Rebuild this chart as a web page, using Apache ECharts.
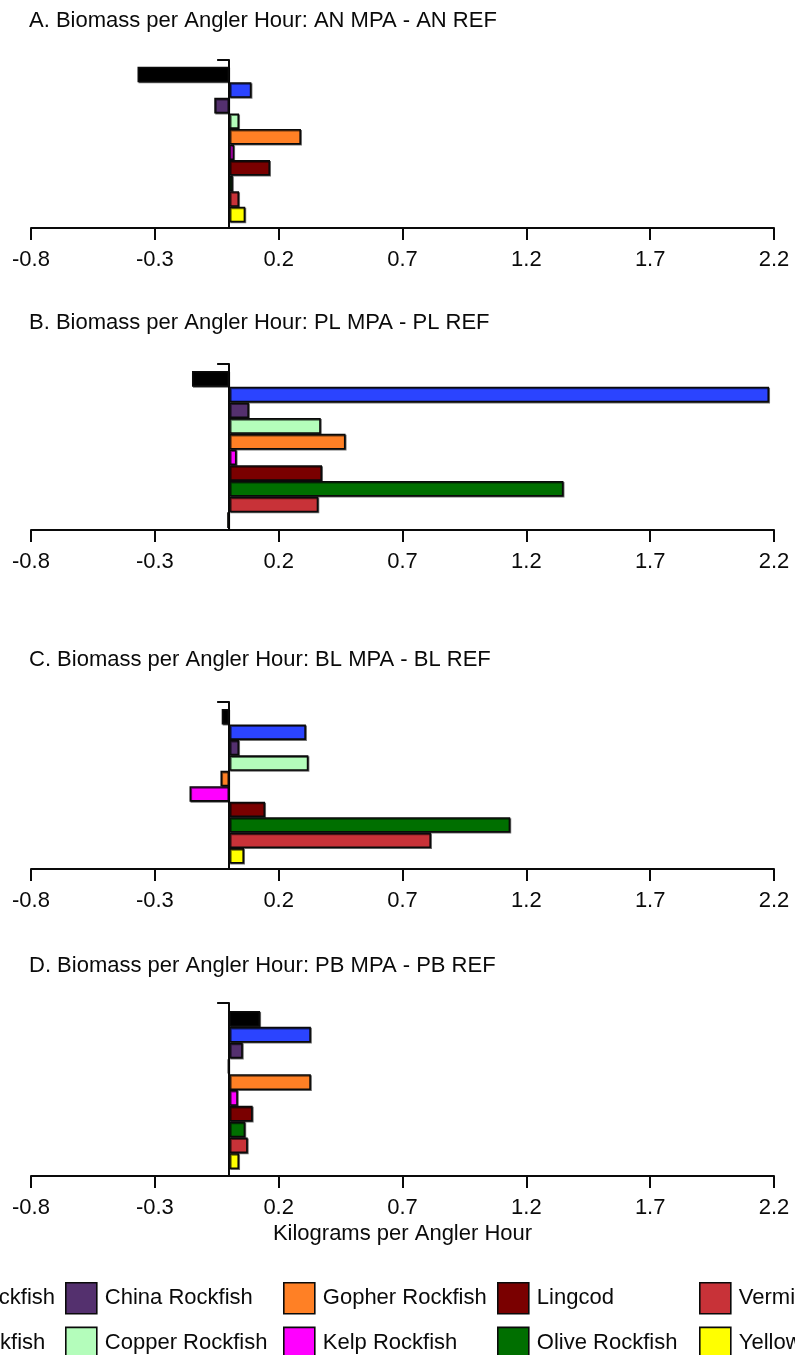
<!DOCTYPE html>
<html>
<head>
<meta charset="utf-8">
<script src="https://cdn.jsdelivr.net/npm/echarts@6/dist/echarts.min.js"></script>
<style>
  html, body { margin: 0; padding: 0; background: #fff; }
  #chart { width: 795px; height: 1355px; }
</style>
</head>
<body>
<div id="chart"></div>
<script>
// species in plotting order (top to bottom)
const species = [
  'Black Rockfish', 'Blue Rockfish', 'China Rockfish', 'Copper Rockfish',
  'Gopher Rockfish', 'Kelp Rockfish', 'Lingcod', 'Olive Rockfish',
  'Vermilion Rockfish', 'Yellowtail Rockfish',
]
const speciesColors = [
  '#000000', '#2b44ff', '#54306e', '#b4fdbb', '#ff8025',
  '#ff00ff', '#7a0000', '#006f00', '#c83238', '#ffff00',
]

// MPA - REF difference, kg per angler hour
const anValues = [-0.37, 0.09, -0.06, 0.04, 0.29, 0.02, 0.165, 0.015, 0.04, 0.065]
const plValues = [-0.15, 2.18, 0.08, 0.37, 0.47, 0.03, 0.375, 1.35, 0.36, -0.008]
const blValues = [-0.03, 0.31, 0.04, 0.32, -0.035, -0.16, 0.145, 1.135, 0.815, 0.06]
const pbValues = [0.125, 0.33, 0.055, -0.006, 0.33, 0.035, 0.095, 0.065, 0.075, 0.04]

const panelTitles = [
  'A. Biomass per Angler Hour: AN MPA - AN REF',
  'B. Biomass per Angler Hour: PL MPA - PL REF',
  'C. Biomass per Angler Hour: BL MPA - BL REF',
  'D. Biomass per Angler Hour: PB MPA - PB REF',
]
const xTicks = [-0.8, -0.3, 0.2, 0.7, 1.2, 1.7, 2.2]
const xName = 'Kilograms per Angler Hour'

const panelValues = [anValues, plValues, blValues, pbValues]

// layout (px): axis frame, bar band, title top
const layout = [
  { frame: [60, 228], bars: [66.7, 222.3], title: 10 },
  { frame: [364, 530], bars: [371, 528], title: 312 },
  { frame: [702, 869], bars: [709, 863.5], title: 649 },
  { frame: [1003, 1176], bars: [1011, 1169], title: 955 },
]
const INK = '#0a0a0a'
const FONT = 'Liberation Sans, Arial, sans-serif'

const grid = []
const xAxis = []
const yAxis = []
const series = []
const title = []

layout.forEach((lay, p) => {
  const outer = p * 2
  const inner = p * 2 + 1
  grid.push({ left: 31, right: 21, top: lay.frame[0], height: lay.frame[1] - lay.frame[0] })
  grid.push({ left: 31, right: 21, top: lay.bars[0], height: lay.bars[1] - lay.bars[0] })

  title.push({
    text: panelTitles[p],
    left: 29,
    top: lay.title,
    padding: 0,
    textStyle: { fontSize: 22, fontWeight: 'normal', color: INK, fontFamily: FONT },
  })

  // visible axes
  xAxis.push({
    gridIndex: outer,
    type: 'value',
    min: -0.8,
    max: 2.2,
    axisLine: { show: true, onZero: false, lineStyle: { color: INK, width: 2 } },
    axisTick: { show: true, customValues: xTicks, length: 12, lineStyle: { color: INK, width: 2 } },
    axisLabel: {
      customValues: xTicks,
      fontSize: 22,
      color: INK,
      fontFamily: FONT,
      margin: 21,
      formatter: (v) => v.toFixed(1),
    },
    splitLine: { show: false },
    name: p === 3 ? xName : '',
    nameLocation: 'middle',
    nameGap: 47,
    nameTextStyle: { fontSize: 22, color: INK, fontFamily: FONT },
  })
  yAxis.push({
    gridIndex: outer,
    type: 'value',
    min: 0,
    max: 1,
    interval: 1,
    axisLine: { show: true, onZero: true, lineStyle: { color: INK, width: 2 } },
    axisTick: { show: true, length: 12, lineStyle: { color: INK, width: 2 } },
    axisLabel: { show: false },
    splitLine: { show: false },
  })

  // bar axes
  xAxis.push({ gridIndex: inner, type: 'value', min: -0.8, max: 2.2, show: false })
  yAxis.push({ gridIndex: inner, type: 'category', data: species, inverse: true, show: false })

  const vals = panelValues[p]
  species.forEach((name, s) => {
    series.push({
      type: 'bar',
      name,
      xAxisIndex: inner,
      yAxisIndex: inner,
      stack: 'panel' + p,
      barCategoryGap: '0%',
      data: species.map((_, i) => (i === s ? vals[s] : null)),
      itemStyle: {
        color: speciesColors[s],
        borderColor: INK,
        borderWidth: 1.6,
        shadowColor: 'rgba(0,0,0,0.55)',
        shadowOffsetX: 1,
        shadowOffsetY: 1,
      },
      emphasis: { disabled: true },
    })
  })
})

const legendCols = [[0, 1], [2, 3], [4, 5], [6, 7], [8, 9]]
const legendLeft = [-129, 65, 283, 497, 699]
const legend = legendCols.map((col, c) => ({
  orient: 'vertical',
  left: legendLeft[c],
  top: 1282,
  height: 100,
  padding: 0,
  itemWidth: 31,
  itemHeight: 31,
  itemGap: 12,
  icon: 'rect',
  selectedMode: false,
  data: col.map((i) => species[i]),
  itemStyle: { borderColor: INK, borderWidth: 1.6 },
  textStyle: { fontSize: 22, color: INK, fontFamily: FONT, padding: [0, 0, 0, 3] },
}))

const chart = echarts.init(document.getElementById('chart'), null, { renderer: 'canvas' })
chart.setOption({
  animation: false,
  backgroundColor: '#fff',
  textStyle: { fontFamily: FONT },
  title,
  legend,
  grid,
  xAxis,
  yAxis,
  series,
})
</script>
</body>
</html>
